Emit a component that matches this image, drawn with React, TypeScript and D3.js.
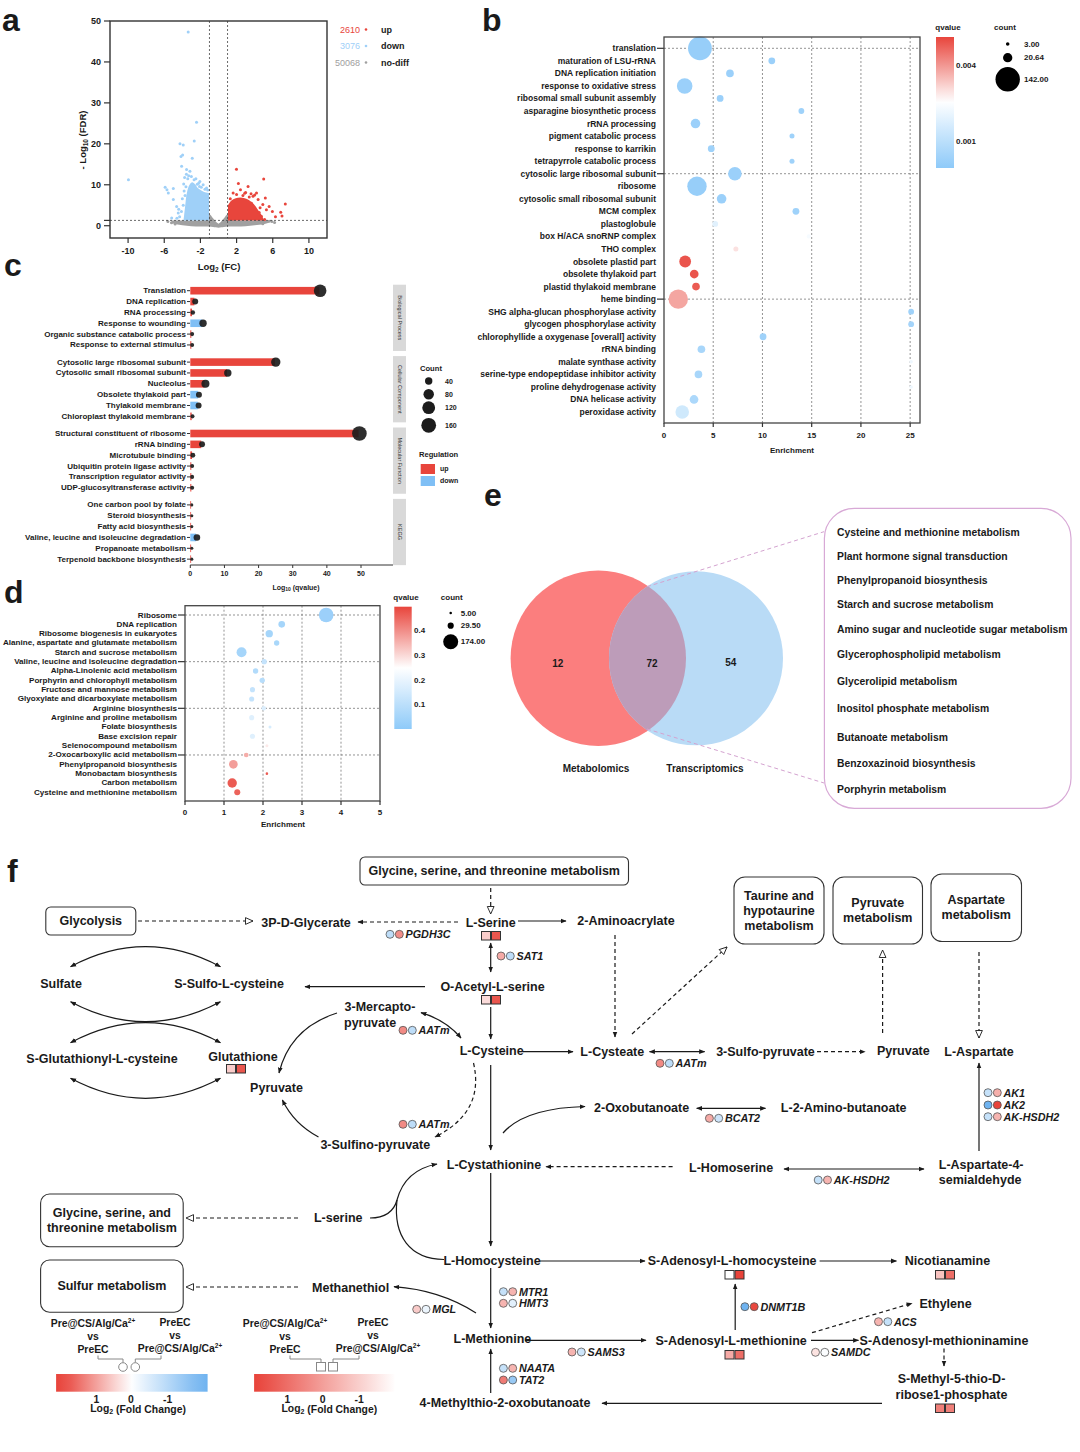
import React from 'react';
import * as d3 from 'd3';

const FONT = '"Liberation Sans", Arial, Helvetica, sans-serif';
const INK = '#1a1a1a';
const UP = '#e8453c';
const DOWN = '#8ec8f8';

// ── a: volcano ──
const VOLCANO_COUNTS = ['2610', '3076', '50068'];
const VOLCANO_CLASSES = ['up', 'down', 'no-diff'];
const VOLCANO_COLORS = ['#e8453c', '#9fd0f8', '#a0a0a0'];
const VOLCANO_X_TICKS = [-10, -6, -2, 2, 6, 10];
const VOLCANO_Y_TICKS = [0, 10, 20, 30, 40, 50];
const FC_CUT = 1;
const FDR_CUT = 1.3;
const DOWN_OUTLIERS: [number, number][] = [
  [-3.35, 47.3], [-2.43, 25.3], [-2.68, 20.7], [-4.26, 20.0], [-3.9, 19.7], [-3.97, 17.3],
  [-4.15, 16.9], [-2.9, 16.5], [-4.08, 14.5], [-9.96, 11.2], [-5.9, 9.4], [-5.0, 9.1],
  [-5.7, 8.8], [-5.55, 8.0], [-5.0, 6.4], [-4.63, 4.7], [-5.18, 1.9], [-4.45, 3.1],
  [-3.53, 13.7], [-3.16, 13.3], [-2.06, 10.8], [-1.7, 10.0], [-1.32, 9.2], [-3.9, 5.0],
  [-4.1, 3.5], [-3.8, 8.5], [-3.6, 9.5], [-3.4, 11.5], [-3.0, 12.0], [-2.7, 11.2],
  [-2.5, 11.5], [-2.2, 10.4], [-1.9, 9.4], [-3.3, 12.2], [-4.3, 2.2], [-4.6, 1.8],
  [-3.75, 11.8], [-4.0, 6.6], [-3.7, 7.4], [-2.1, 9.6], [-1.5, 8.9], [-4.4, 4.0],
  [-3.85, 10.2], [-3.55, 12.6], [-2.35, 10.1], [-1.2, 8.7],
];
const UP_OUTLIERS: [number, number][] = [
  [1.99, 13.8], [5.0, 11.4], [7.39, 5.3], [6.88, 3.3], [7.02, 2.4], [5.3, 3.9], [5.6, 4.7],
  [5.18, 6.8], [4.38, 6.4], [4.2, 8.0], [3.82, 7.2], [2.2, 10.3], [3.27, 9.6], [4.74, 2.3],
  [5.1, 1.5], [1.62, 8.0], [2.43, 8.8], [3.0, 8.1], [3.64, 5.5], [5.96, 3.5], [4.0, 7.5],
  [4.6, 4.4], [4.9, 5.2], [3.4, 7.0], [2.7, 7.4], [1.3, 6.6], [4.5, 3.2], [6.3, 2.2],
  [2.0, 7.6], [2.9, 7.9], [3.6, 7.8],
];
const NODIFF_OUTLIERS: [number, number][] = [
  [-5.6, 1.0], [-5.2, 0.7], [5.9, 1.0], [6.2, 0.8], [5.6, 1.1], [-4.8, 0.4], [4.9, 0.5],
];
// upper edge of the dense clouds: [log2FC, -log10 FDR]
const DOWN_CORE: [number, number][] = [
  [-3.85, 1.6], [-3.7, 4.5], [-3.5, 8.0], [-3.2, 10.0], [-2.9, 10.6], [-2.6, 10.1],
  [-2.3, 9.2], [-1.9, 8.6], [-1.5, 8.2], [-1.05, 8.0],
];
const UP_CORE: [number, number][] = [
  [1.05, 5.0], [1.4, 6.1], [1.9, 6.7], [2.4, 6.9], [2.9, 6.7], [3.4, 6.2],
  [3.9, 5.3], [4.3, 4.1], [4.7, 2.8], [5.0, 1.6],
];
// no-diff band: [log2FC, low, high]
const NODIFF_CORE: [number, number, number][] = [
  [-5.2, 0.6, 1.3], [-4.0, 0.1, 1.3], [-3.0, -0.1, 1.3], [-2.0, -0.2, 1.3], [-1.2, -0.2, 1.7],
  [-1.0, -0.2, 2.8], [-0.6, -0.3, 1.8], [-0.3, -0.4, 1.0], [0.0, -0.5, 0.5], [0.3, -0.4, 1.0],
  [0.6, -0.3, 1.8], [1.0, -0.2, 2.8], [1.2, -0.2, 1.7], [2.0, -0.2, 1.3], [3.0, -0.1, 1.3],
  [4.0, 0.1, 1.3], [5.0, 0.4, 1.3], [5.6, 0.8, 1.2],
];

// ── b: GO bubble ──
const GO_TERMS = [
  'translation', 'maturation of LSU-rRNA', 'DNA replication initiation', 'response to oxidative stress',
  'ribosomal small subunit assembly', 'asparagine biosynthetic process', 'rRNA processing',
  'pigment catabolic process', 'response to karrikin', 'tetrapyrrole catabolic process',
  'cytosolic large ribosomal subunit', 'ribosome', 'cytosolic small ribosomal subunit', 'MCM complex',
  'plastoglobule', 'box H/ACA snoRNP complex', 'THO complex', 'obsolete plastid part',
  'obsolete thylakoid part', 'plastid thylakoid membrane', 'heme binding',
  'SHG alpha-glucan phosphorylase activity', 'glycogen phosphorylase activity',
  'chlorophyllide a oxygenase [overall] activity', 'rRNA binding', 'malate synthase activity',
  'serine-type endopeptidase inhibitor activity', 'proline dehydrogenase activity',
  'DNA helicase activity', 'peroxidase activity',
];
const GO_ENRICH = [3.65, 10.95, 6.7, 2.1, 5.7, 13.95, 3.2, 13.0, 4.8, 13.0, 7.2, 3.35, 5.85, 13.4, 5.2,
  14.7, 7.3, 2.15, 3.07, 3.25, 1.45, 25.1, 25.1, 10.06, 3.8, 25.1, 3.5, 25.1, 3.05, 1.85];
const GO_COUNT = [135, 11, 14, 58, 11, 8, 22, 6, 11, 6, 44, 90, 22, 11, 8, 4, 6, 33, 18, 14, 90, 8, 8,
  11, 14, 3, 14, 3, 18, 44];
const GO_Q = [0.0002, 0.0003, 0.0003, 0.0003, 0.0003, 0.0004, 0.0003, 0.0004, 0.0004, 0.0004, 0.0003,
  0.0002, 0.0003, 0.0004, 0.0019, 0.0024, 0.003, 0.0049, 0.0049, 0.0048, 0.0038, 0.0004, 0.0005,
  0.0004, 0.0006, 0.0022, 0.0006, 0.0022, 0.0007, 0.0015];
const GO_X_TICKS = [0, 5, 10, 15, 20, 25];
const GO_Q_TICKS = [0.004, 0.001];
const GO_COUNT_KEYS = [3, 20.64, 142];

// ── c: lollipop ──
const C_GROUPS = ['Biological Process', 'Cellular Component', 'Molecular Function', 'KEGG'];
const C_TERMS = [
  ['Translation', 'DNA replication', 'RNA processing', 'Response to wounding', 'Organic substance catabolic process', 'Response to external stimulus'],
  ['Cytosolic large ribosomal subunit', 'Cytosolic small ribosomal subunit', 'Nucleolus', 'Obsolete thylakoid part', 'Thylakoid membrane', 'Chloroplast thylakoid membrane'],
  ['Structural constituent of ribosome', 'rRNA binding', 'Microtubule binding', 'Ubiquitin protein ligase activity', 'Transcription regulator activity', 'UDP-glucosyltransferase activity'],
  ['One carbon pool by folate', 'Steroid biosynthesis', 'Fatty acid biosynthesis', 'Valine, leucine and isoleucine degradation', 'Propanoate metabolism', 'Terpenoid backbone biosynthesis'],
];
const C_VALUES = [
  [37.8, 1.2, 0.5, 3.5, 0.3, 0.3],
  [24.8, 10.75, 4.2, 2.3, 2.2, 0.4],
  [49.3, 3.2, 0.5, 0.3, 0.3, 0.3],
  [0.2, 0.2, 0.2, 1.7, 0.2, 0.2],
];
const C_COUNTS = [
  [116, 26, 15, 40, 12, 12],
  [64, 40, 47, 26, 26, 12],
  [156, 26, 18, 12, 12, 12],
  [7, 7, 7, 32, 7, 7],
];
const C_REG = [
  ['up', 'up', 'up', 'down', 'up', 'up'],
  ['up', 'up', 'up', 'down', 'down', 'up'],
  ['up', 'up', 'up', 'up', 'up', 'up'],
  ['up', 'up', 'up', 'down', 'up', 'up'],
];
const C_X_TICKS = [0, 10, 20, 30, 40, 50];
const C_COUNT_KEYS = [40, 80, 120, 160];

// ── d: KEGG bubble ──
const KEGG_TERMS = [
  'Ribosome', 'DNA replication', 'Ribosome biogenesis in eukaryotes', 'Alanine, aspartate and glutamate metabolism',
  'Starch and sucrose metabolism', 'Valine, leucine and isoleucine degradation', 'Alpha-Linolenic acid metabolism',
  'Porphyrin and chlorophyll metabolism', 'Fructose and mannose metabolism', 'Glyoxylate and dicarboxylate metabolism',
  'Arginine biosynthesis', 'Arginine and proline metabolism', 'Folate biosynthesis', 'Base excision repair',
  'Selenocompound metabolism', '2-Oxocarboxylic acid metabolism', 'Phenylpropanoid biosynthesis',
  'Monobactam biosynthesis', 'Carbon metabolism', 'Cysteine and methionine metabolism',
];
const KEGG_ENRICH = [3.62, 2.48, 2.16, 2.35, 1.45, 2.03, 1.81, 1.98, 1.73, 1.71, 2.02, 1.71, 2.18, 1.73,
  2.1, 1.57, 1.24, 2.1, 1.21, 1.34];
const KEGG_COUNT = [165, 34, 42, 22, 77, 22, 22, 22, 20, 20, 15, 20, 7, 20, 7, 17, 58, 5, 68, 28];
const KEGG_Q = [0.03, 0.05, 0.05, 0.06, 0.05, 0.12, 0.08, 0.09, 0.12, 0.12, 0.17, 0.18, 0.16, 0.18,
  0.28, 0.36, 0.38, 0.47, 0.47, 0.46];
const KEGG_X_TICKS = [0, 1, 2, 3, 4, 5];
const KEGG_Q_TICKS = [0.4, 0.3, 0.2, 0.1];
const KEGG_COUNT_KEYS = [5, 29.5, 174];

// ── e: Venn ──
const VENN_SETS = ['Metabolomics', 'Transcriptomics'];
const VENN_COUNTS = [12, 72, 54];
const VENN_SHARED = [
  'Cysteine and methionine metabolism', 'Plant hormone signal transduction', 'Phenylpropanoid biosynthesis',
  'Starch and sucrose metabolism', 'Amino sugar and nucleotide sugar metabolism', 'Glycerophospholipid metabolism',
  'Glycerolipid metabolism', 'Inositol phosphate metabolism', 'Butanoate metabolism',
  'Benzoxazinoid biosynthesis', 'Porphyrin metabolism',
];

// ── f: pathway, log2 fold changes ──
const GENE_NAMES = ['PGDH3C', 'SAT1', 'AATm', 'BCAT2', 'AK1', 'AK2', 'AK-HSDH2', 'MTR1', 'HMT3', 'NAATA',
  'TAT2', 'MGL', 'DNMT1B', 'SAMS3', 'ACS', 'SAMDC'];
const GENE_FC_A = [-0.9, 0.9, 1.25, 0.9, -0.8, -2.2, -0.8, -0.8, 0.8, -0.8, 1.4, 0.55, -2.0, 0.8, 0.8, 0.3];
const GENE_FC_B = [1.2, -0.9, -0.9, -0.7, 0.85, 2.0, 0.8, 0.8, -0.4, 0.8, -1.43, -0.26, 1.95, -0.66, -0.8, -0.05];
const METAB_NAMES = ['L-Serine', 'O-Acetyl-L-serine', 'Glutathione', 'S-Adenosyl-L-homocysteine',
  'Nicotianamine', 'S-Adenosyl-L-methionine', 'S-Methyl-5-thio-D-ribose1-phosphate'];
const METAB_FC_A = [-0.95, -1.26, -0.95, -2.0, -0.75, -0.24, 0.65];
const METAB_FC_B = [1.5, 1.5, 1.5, 1.9, 1.0, 1.0, 0.65];
const FC_TICKS = [1, 0, -1];

const geneColor = d3.scaleLinear<string>().domain([2, 0, -2]).range(['#e8433a', '#ffffff', '#6fb3f0']).clamp(true);
const metabColor = d3.scaleLinear<string>().domain([-2, 1.9]).range(['#ffffff', '#e8433a']).clamp(true);

const FS = 12.5; // pathway label size

function Txt({ x, y, children, size = FS, anchor = 'middle', italic = false, weight = 'bold', fill = INK, transform }: any) {
  return (
    <text x={x} y={y} fontSize={size} textAnchor={anchor} dominantBaseline="central" fontWeight={weight}
      fontStyle={italic ? 'italic' : 'normal'} fill={fill} transform={transform}>
      {children}
    </text>
  );
}

function Defs() {
  return (
    <defs>
      <marker id="af" viewBox="0 0 10 10" refX="9" refY="5" markerWidth="6" markerHeight="6"
        orient="auto-start-reverse" markerUnits="userSpaceOnUse">
        <path d="M0,1 L10,5 L0,9 z" fill={INK} />
      </marker>
      <marker id="ao" viewBox="0 0 12 12" refX="11" refY="6" markerWidth="9" markerHeight="9"
        orient="auto-start-reverse" markerUnits="userSpaceOnUse">
        <path d="M1,1.5 L11,6 L1,10.5 z" fill="#fff" stroke={INK} strokeWidth="1.2" />
      </marker>
    </defs>
  );
}

// ── Panel a ──
function PanelA() {
  const x = d3.scaleLinear().domain([-12, 12]).range([110, 327]);
  const y = d3.scaleLinear().domain([-3, 50]).range([238, 21]);
  const core = d3.area<[number, number]>().x((d) => x(d[0])).y0(y(FDR_CUT)).y1((d) => y(d[1])).curve(d3.curveCatmullRom);
  const band = d3.area<[number, number, number]>().x((d) => x(d[0])).y0((d) => y(d[1])).y1((d) => y(d[2])).curve(d3.curveCatmullRom);
  return (
    <g>
      <Txt x={2} y={20} size={32} anchor="start">a</Txt>
      <path d={band(NODIFF_CORE) || ''} fill={VOLCANO_COLORS[2]} />
      {NODIFF_OUTLIERS.map((d, i) => <circle key={'n' + i} cx={x(d[0])} cy={y(d[1])} r={1.5} fill={VOLCANO_COLORS[2]} />)}
      <path d={core(DOWN_CORE) || ''} fill={VOLCANO_COLORS[1]} />
      <path d={core(UP_CORE) || ''} fill={VOLCANO_COLORS[0]} />
      {DOWN_OUTLIERS.map((d, i) => <circle key={'d' + i} cx={x(d[0])} cy={y(d[1])} r={1.5} fill={VOLCANO_COLORS[1]} />)}
      {UP_OUTLIERS.map((d, i) => <circle key={'u' + i} cx={x(d[0])} cy={y(d[1])} r={1.5} fill={VOLCANO_COLORS[0]} />)}
      {[-FC_CUT, FC_CUT].map((v) => (
        <line key={v} x1={x(v)} x2={x(v)} y1={21} y2={238} stroke="#444" strokeWidth={0.8} strokeDasharray="2 2" />
      ))}
      <line x1={110} x2={327} y1={y(FDR_CUT)} y2={y(FDR_CUT)} stroke="#444" strokeWidth={0.8} strokeDasharray="2 2" />
      <rect x={110} y={21} width={217} height={217} fill="none" stroke="#333" strokeWidth={1.4} />
      {VOLCANO_Y_TICKS.map((t) => (
        <g key={t}>
          <line x1={104} x2={110} y1={y(t)} y2={y(t)} stroke="#333" strokeWidth={1.2} />
          <Txt x={101} y={y(t)} size={9} anchor="end">{t}</Txt>
        </g>
      ))}
      <line x1={104} x2={110} y1={y(FDR_CUT)} y2={y(FDR_CUT)} stroke="#333" strokeWidth={1.2} />
      {VOLCANO_X_TICKS.map((t) => (
        <g key={t}>
          <line x1={x(t)} x2={x(t)} y1={238} y2={243} stroke="#333" strokeWidth={1.2} />
          <Txt x={x(t)} y={251} size={9}>{t}</Txt>
        </g>
      ))}
      <text x={219} y={266} fontSize={9.5} fontWeight="bold" textAnchor="middle" dominantBaseline="central" fill={INK}>
        Log<tspan fontSize={6.5} dy={2.5}>2</tspan><tspan dy={-2.5}> (FC)</tspan>
      </text>
      <text transform="translate(82,140) rotate(-90)" fontSize={9.5} fontWeight="bold" textAnchor="middle" dominantBaseline="central" fill={INK}>
        - Log<tspan fontSize={6.5} dy={2.5}>10</tspan><tspan dy={-2.5}> (FDR)</tspan>
      </text>
      {VOLCANO_COUNTS.map((n, i) => (
        <g key={n}>
          <Txt x={360} y={29.5 + i * 16.5} size={9} anchor="end" fill={VOLCANO_COLORS[i]} weight="normal">{n}</Txt>
          <circle cx={366} cy={29.5 + i * 16.5} r={1.3} fill={VOLCANO_COLORS[i]} />
          <Txt x={381} y={29.5 + i * 16.5} size={9} anchor="start">{VOLCANO_CLASSES[i]}</Txt>
        </g>
      ))}
    </g>
  );
}

// ── Panel b ──
function PanelB() {
  const x = d3.scaleLinear().domain([0, 26]).range([664, 920]);
  const y = d3.scaleLinear().domain([0, 29]).range([48.3, 412]);
  const r = d3.scaleSqrt().domain([0, 142]).range([0, 12.2]);
  const qc = d3.scaleLinear<string>().domain([0, 0.0026, 0.0051]).range(['#8ecaf9', '#ffffff', '#e8453c']);
  const qy = d3.scaleLinear().domain([0.004, 0.001]).range([65, 141.7]);
  const stops = d3.range(0, 1.0001, 0.1);
  return (
    <g>
      <Txt x={482} y={20} size={32} anchor="start">b</Txt>
      <defs>
        <linearGradient id="gq" x1="0" y1="0" x2="0" y2="1">
          {stops.map((s) => <stop key={s} offset={s} stopColor={qc(0.0051 - s * 0.0051)} />)}
        </linearGradient>
      </defs>
      {GO_X_TICKS.slice(1).map((t) => (
        <line key={t} x1={x(t)} x2={x(t)} y1={37} y2={423} stroke="#666" strokeWidth={0.7} strokeDasharray="2 2" />
      ))}
      {[0, 10, 20].map((i) => (
        <g key={i}>
          <line x1={664} x2={920} y1={y(i)} y2={y(i)} stroke="#666" strokeWidth={0.7} strokeDasharray="2 2" />
          <line x1={657} x2={664} y1={y(i)} y2={y(i)} stroke="#333" strokeWidth={1.2} />
        </g>
      ))}
      {GO_TERMS.map((t, i) => (
        <g key={t}>
          <Txt x={656} y={y(i)} size={8.5} anchor="end">{t}</Txt>
          <circle cx={x(GO_ENRICH[i])} cy={y(i)} r={r(GO_COUNT[i])} fill={qc(GO_Q[i])} />
        </g>
      ))}
      <rect x={664} y={37} width={256} height={386} fill="none" stroke="#444" strokeWidth={1.3} />
      {GO_X_TICKS.map((t) => (
        <g key={t}>
          <line x1={x(t)} x2={x(t)} y1={423} y2={427} stroke="#333" strokeWidth={1.2} />
          <Txt x={x(t)} y={435.5} size={8}>{t}</Txt>
        </g>
      ))}
      <Txt x={792} y={450} size={8}>Enrichment</Txt>
      <Txt x={948} y={27.5} size={8}>qvalue</Txt>
      <rect x={936} y={37} width={18} height={131} fill="url(#gq)" />
      {GO_Q_TICKS.map((t) => <Txt key={t} x={956} y={qy(t)} size={8} anchor="start">{t.toFixed(3)}</Txt>)}
      <Txt x={1005} y={27.5} size={8}>count</Txt>
      {GO_COUNT_KEYS.map((c, i) => {
        const cy = [44, 57.7, 79.3][i];
        return (
          <g key={c}>
            <circle cx={1007.7} cy={cy} r={r(c)} fill="#000" />
            <Txt x={1024} y={cy} size={8} anchor="start">{c.toFixed(2)}</Txt>
          </g>
        );
      })}
    </g>
  );
}

// ── Panel c ──
function PanelC() {
  const x = d3.scaleLinear().domain([0, 50]).range([190.3, 361]);
  const r = d3.scaleSqrt().domain([0, 160]).range([0, 7.4]);
  const rowY = (g: number, j: number) => 290.7 + (g * 6 + j) * 10.85 + g * 6.3;
  const col = (reg: string) => (reg === 'up' ? UP : '#7fbff5');
  return (
    <g>
      <Txt x={4} y={265} size={32} anchor="start">c</Txt>
      {C_GROUPS.map((gName, g) => (
        <g key={gName}>
          <rect x={393} y={rowY(g, 0) - 6} width={13} height={rowY(g, 5) - rowY(g, 0) + 12} fill="#d9d9d9" />
          <Txt x={399.5} y={(rowY(g, 0) + rowY(g, 5)) / 2} size={5.5} weight="normal" fill="#333"
            transform={`rotate(90 399.5 ${(rowY(g, 0) + rowY(g, 5)) / 2})`}>{gName}</Txt>
          {C_TERMS[g].map((t, j) => {
            const cy = rowY(g, j);
            return (
              <g key={t}>
                <Txt x={186} y={cy} size={8} anchor="end">{t}</Txt>
                <line x1={187} x2={190} y1={cy} y2={cy} stroke="#333" strokeWidth={1} />
                <rect x={x(0)} y={cy - 3.8} width={Math.max(0.8, x(C_VALUES[g][j]) - x(0))} height={7.6} fill={col(C_REG[g][j])} />
                <circle cx={x(C_VALUES[g][j]) + 0.8} cy={cy} r={r(C_COUNTS[g][j])} fill="#1c1c1c" opacity={0.92} />
              </g>
            );
          })}
        </g>
      ))}
      <line x1={190.3} x2={393} y1={565} y2={565} stroke="#333" strokeWidth={1} />
      {C_X_TICKS.map((t) => (
        <g key={t}>
          <line x1={x(t)} x2={x(t)} y1={565} y2={568} stroke="#333" strokeWidth={1} />
          <Txt x={x(t)} y={573} size={7}>{t}</Txt>
        </g>
      ))}
      <text x={296} y={587} fontSize={7} fontWeight="bold" textAnchor="middle" dominantBaseline="central" fill={INK}>
        Log<tspan fontSize={5} dy={2}>10</tspan><tspan dy={-2}> (qvalue)</tspan>
      </text>
      <Txt x={420} y={368} size={7.6} anchor="start">Count</Txt>
      {C_COUNT_KEYS.map((c, i) => {
        const cy = [381, 394.3, 407.7, 425.3][i];
        return (
          <g key={c}>
            <circle cx={428.7} cy={cy} r={r(c)} fill="#1c1c1c" />
            <Txt x={445} y={cy} size={7} anchor="start">{c}</Txt>
          </g>
        );
      })}
      <Txt x={419} y={454} size={7.6} anchor="start">Regulation</Txt>
      <rect x={420.7} y={464} width={14.3} height={10} fill={UP} />
      <Txt x={440} y={468.5} size={7} anchor="start">up</Txt>
      <rect x={420.7} y={476} width={14.3} height={10} fill="#7fbff5" />
      <Txt x={440} y={480.5} size={7} anchor="start">down</Txt>
    </g>
  );
}

// ── Panel d ──
function PanelD() {
  const x = d3.scaleLinear().domain([0, 5]).range([185, 380]);
  const y = d3.scaleLinear().domain([0, 19]).range([615, 792.3]);
  const r = d3.scaleSqrt().domain([0, 174]).range([0, 7.5]);
  const qc = d3.scaleLinear<string>().domain([0, 0.25, 0.5]).range(['#8ecaf9', '#ffffff', '#e8453c']);
  const qy = d3.scaleLinear().domain([0.4, 0.1]).range([630.7, 704.7]);
  const stops = d3.range(0, 1.0001, 0.1);
  return (
    <g>
      <Txt x={4} y={592} size={32} anchor="start">d</Txt>
      <defs>
        <linearGradient id="gq2" x1="0" y1="0" x2="0" y2="1">
          {stops.map((s) => <stop key={s} offset={s} stopColor={qc(0.5 - s * 0.5)} />)}
        </linearGradient>
      </defs>
      {KEGG_X_TICKS.slice(1, 5).map((t) => (
        <line key={t} x1={x(t)} x2={x(t)} y1={605.7} y2={801} stroke="#666" strokeWidth={0.7} strokeDasharray="2 2" />
      ))}
      {[0, 5, 10, 15].map((i) => (
        <g key={i}>
          <line x1={185} x2={380} y1={y(i)} y2={y(i)} stroke="#666" strokeWidth={0.7} strokeDasharray="2 2" />
          <line x1={178} x2={185} y1={y(i)} y2={y(i)} stroke="#333" strokeWidth={1.2} />
        </g>
      ))}
      {KEGG_TERMS.map((t, i) => (
        <g key={t}>
          <Txt x={177} y={y(i)} size={8.1} anchor="end">{t}</Txt>
          <circle cx={x(KEGG_ENRICH[i])} cy={y(i)} r={r(KEGG_COUNT[i])} fill={qc(KEGG_Q[i])} />
        </g>
      ))}
      <rect x={185} y={605.7} width={195} height={195.3} fill="none" stroke="#444" strokeWidth={1.3} />
      {KEGG_X_TICKS.map((t) => (
        <g key={t}>
          <line x1={x(t)} x2={x(t)} y1={801} y2={805} stroke="#333" strokeWidth={1.2} />
          <Txt x={x(t)} y={812} size={8}>{t}</Txt>
        </g>
      ))}
      <Txt x={283} y={824.5} size={8}>Enrichment</Txt>
      <Txt x={406} y={597.7} size={8}>qvalue</Txt>
      <rect x={394.3} y={606.7} width={17.4} height={122.3} fill="url(#gq2)" />
      {KEGG_Q_TICKS.map((t) => <Txt key={t} x={414} y={qy(t)} size={8} anchor="start">{t.toFixed(1)}</Txt>)}
      <Txt x={451.7} y={597.7} size={8}>count</Txt>
      {KEGG_COUNT_KEYS.map((c, i) => {
        const cy = [613, 625.7, 641.7][i];
        return (
          <g key={c}>
            <circle cx={450.7} cy={cy} r={r(c)} fill="#000" />
            <Txt x={460.7} y={cy} size={8} anchor="start">{c.toFixed(2)}</Txt>
          </g>
        );
      })}
    </g>
  );
}

// ── Panel e ──
function PanelE() {
  const cx = [598.3, 696];
  const cy = 658.3;
  const rad = 87.7;
  const listYs = [532.7, 556.7, 580.7, 604.7, 629.3, 654, 681, 708.3, 737.3, 763.3, 789.3];
  return (
    <g>
      <Txt x={484} y={495} size={32} anchor="start">e</Txt>
      <defs>
        <clipPath id="venn-red"><circle cx={cx[0]} cy={cy} r={rad} /></clipPath>
      </defs>
      <circle cx={cx[0]} cy={cy} r={rad} fill="#fb7e7e" />
      <circle cx={cx[1]} cy={cy} r={rad - 0.7} fill="#b9dbf6" />
      <circle cx={cx[1]} cy={cy} r={rad - 0.7} fill="#bd9cb9" clipPath="url(#venn-red)" />
      <Txt x={557.7} y={663} size={10}>{VENN_COUNTS[0]}</Txt>
      <Txt x={652} y={663} size={10}>{VENN_COUNTS[1]}</Txt>
      <Txt x={730.7} y={662} size={10}>{VENN_COUNTS[2]}</Txt>
      <Txt x={596} y={768} size={10}>{VENN_SETS[0]}</Txt>
      <Txt x={705} y={768} size={10}>{VENN_SETS[1]}</Txt>
      <line x1={647} y1={586.7} x2={824} y2={531.7} stroke="#d4a3d0" strokeWidth={1} strokeDasharray="4 3" />
      <line x1={647} y1={729} x2={824} y2={783} stroke="#d4a3d0" strokeWidth={1} strokeDasharray="4 3" />
      <rect x={824.4} y={508.3} width={246.6} height={300} rx={30} fill="#fff" stroke="#d8a9d6" strokeWidth={1.2} />
      {VENN_SHARED.map((p, i) => (
        <Txt key={p} x={837} y={listYs[i]} size={10.35} anchor="start">{p}</Txt>
      ))}
    </g>
  );
}

// ── Panel f ──
function Ln({ x1, y1, x2, y2, dashed = false, head = 'af', both = false }: any) {
  return (
    <line x1={x1} y1={y1} x2={x2} y2={y2} stroke={INK} strokeWidth={1.2}
      strokeDasharray={dashed ? '4 3' : undefined}
      markerEnd={head ? `url(#${head})` : undefined} markerStart={both ? `url(#${head})` : undefined} />
  );
}
function Crv({ d, dashed = false, head = 'af', both = false }: any) {
  return (
    <path d={d} fill="none" stroke={INK} strokeWidth={1.2} strokeDasharray={dashed ? '4 3' : undefined}
      markerEnd={head ? `url(#${head})` : undefined} markerStart={both ? `url(#${head})` : undefined} />
  );
}
function Genes({ name, x, y }: { name: string; x: number; y: number }) {
  const i = GENE_NAMES.indexOf(name);
  return (
    <g>
      <circle cx={x} cy={y} r={4} fill={geneColor(GENE_FC_A[i])} stroke="#555" strokeWidth={0.8} />
      <circle cx={x + 9.3} cy={y} r={4} fill={geneColor(GENE_FC_B[i])} stroke="#555" strokeWidth={0.8} />
      <Txt x={x + 15.5} y={y} size={10.8} anchor="start" italic>{name}</Txt>
    </g>
  );
}
function Metab({ name, x, y }: { name: string; x: number; y: number }) {
  const i = METAB_NAMES.indexOf(name);
  return (
    <g>
      <rect x={x} y={y} width={9} height={8.5} fill={metabColor(METAB_FC_A[i])} stroke="#333" strokeWidth={1} />
      <rect x={x + 10} y={y} width={9} height={8.5} fill={metabColor(METAB_FC_B[i])} stroke="#333" strokeWidth={1} />
    </g>
  );
}
function Box({ x, y, w, h, lines, rx = 7 }: any) {
  const n = lines.length;
  return (
    <g>
      <rect x={x} y={y} width={w} height={h} rx={rx} fill="#fff" stroke="#333" strokeWidth={1.1} />
      {lines.map((l: string, i: number) => (
        <Txt key={l} x={x + w / 2} y={y + h / 2 + (i - (n - 1) / 2) * 15} size={12.5}>{l}</Txt>
      ))}
    </g>
  );
}

function Legend({ kind, x0 }: { kind: 'circle' | 'square'; x0: number }) {
  // x0 = left edge of the gradient bar
  const w = kind === 'circle' ? 151.5 : 140.2;
  const pos = d3.scaleLinear().domain([1, 0, -1]).range(kind === 'circle' ? [96.4, 130.9, 167.7] : [287.5, 322.7, 359.2]);
  const gid = kind === 'circle' ? 'fcg1' : 'fcg2';
  const stops = d3.range(0, 1.0001, 0.1);
  const vAt = (s: number) => pos.invert(x0 + s * w);
  const colAt = (s: number) => (kind === 'circle' ? geneColor(vAt(s)) : metabColor(vAt(s)));
  const m1 = kind === 'circle' ? [123, 135.3] : [321, 333];
  const lA = kind === 'circle' ? 93 : 285;
  const lB = kind === 'circle' ? 175 : 373;
  const ls = 10.4;
  return (
    <g>
      <defs>
        <linearGradient id={gid} x1="0" y1="0" x2="1" y2="0">
          {stops.map((s) => <stop key={s} offset={s} stopColor={colAt(s)} />)}
        </linearGradient>
      </defs>
      <text x={lA} y={1323} fontSize={ls} fontWeight="bold" textAnchor="middle" dominantBaseline="central" fill={INK}>
        Pre@CS/Alg/Ca<tspan fontSize={6.5} dy={-3}>2+</tspan>
      </text>
      <Txt x={lA} y={1336} size={ls}>vs</Txt>
      <Txt x={lA} y={1349} size={ls}>PreEC</Txt>
      <Txt x={lB} y={1322} size={ls}>PreEC</Txt>
      <Txt x={lB} y={1335} size={ls}>vs</Txt>
      <text x={lB + 5} y={1348} fontSize={ls} fontWeight="bold" textAnchor="middle" dominantBaseline="central" fill={INK}>
        Pre@CS/Alg/Ca<tspan fontSize={6.5} dy={-3}>2+</tspan>
      </text>
      <polyline points={`${lA + 5},1355.5 ${lA + 5},1359 ${m1[0]},1359 ${m1[0]},1362.5`} fill="none" stroke="#888" strokeWidth={1} />
      <polyline points={`${lB - 14},1355.5 ${lB - 14},1359 ${m1[1]},1359 ${m1[1]},1362.5`} fill="none" stroke="#888" strokeWidth={1} />
      {m1.map((mx) => kind === 'circle'
        ? <circle key={mx} cx={mx} cy={1367} r={4.3} fill="#fff" stroke="#888" strokeWidth={1} />
        : <rect key={mx} x={mx - 4.5} y={1362.5} width={9} height={8.5} fill="#fff" stroke="#888" strokeWidth={1} />)}
      <rect x={x0} y={1374} width={w} height={17.7} fill={`url(#${gid})`} />
      {FC_TICKS.map((t) => <Txt key={t} x={pos(t)} y={1399} size={ls}>{t}</Txt>)}
      <text x={(pos(1) + pos(-1)) / 2 + 6} y={1408.5} fontSize={ls} fontWeight="bold" textAnchor="middle" dominantBaseline="central" fill={INK}>
        Log<tspan fontSize={7} dy={2.5}>2</tspan><tspan dy={-2.5}> (Fold Change)</tspan>
      </text>
    </g>
  );
}

function PanelF() {
  return (
    <g>
      <Txt x={7} y={871} size={32} anchor="start">f</Txt>
      <Box x={360} y={857} w={268.5} h={28} lines={['Glycine, serine, and threonine metabolism']} rx={5} />
      <Box x={45.8} y={907} w={90} h={28} lines={['Glycolysis']} rx={5} />
      <Box x={734} y={877} w={90} h={67} lines={['Taurine and', 'hypotaurine', 'metabolism']} rx={11} />
      <Box x={833} y={877} w={89.5} h={67} lines={['Pyruvate', 'metabolism']} rx={11} />
      <Box x={931} y={874} w={90.5} h={67.5} lines={['Aspartate', 'metabolism']} rx={11} />
      <Box x={40.6} y={1194} w={142.6} h={52.7} lines={['Glycine, serine, and', 'threonine metabolism']} rx={9} />
      <Box x={40.6} y={1260} w={142.6} h={52.3} lines={['Sulfur metabolism']} rx={9} />

      {/* links */}
      <Ln x1={138} y1={921} x2={253} y2={921} dashed head="ao" />
      <Ln x1={458} y1={922} x2={358} y2={922} dashed />
      <Ln x1={490.7} y1={888} x2={490.7} y2={914} dashed head="ao" />
      <Ln x1={518} y1={921} x2={566} y2={921} />
      <Ln x1={490.7} y1={943} x2={490.7} y2={972} both />
      <Ln x1={425} y1={986.7} x2={305} y2={986.7} />
      <Ln x1={490.7} y1={1007} x2={490.7} y2={1039} />
      <Ln x1={615} y1={935} x2={615} y2={1037} dashed />
      <Ln x1={523} y1={1051.7} x2={573} y2={1051.7} />
      <Ln x1={632} y1={1034} x2={727} y2={947} dashed head="ao" />
      <Ln x1={649.5} y1={1051.7} x2={704.6} y2={1051.7} both />
      <Ln x1={817} y1={1051.7} x2={865} y2={1051.7} dashed />
      <Ln x1={882.6} y1={1033} x2={882.6} y2={950} dashed head="ao" />
      <Ln x1={979} y1={952} x2={979} y2={1038} dashed head="ao" />
      <Ln x1={979} y1={1151} x2={979} y2={1063} />
      <Ln x1={696.7} y1={1108.3} x2={765.5} y2={1108.3} both />
      <Crv d="M503,1133 Q525,1108 585,1106.5" />
      <Ln x1={490.7} y1={1065} x2={490.7} y2={1150} />
      <Crv d="M337,1013 Q290,1028 279,1073" />
      <Crv d="M421,1012.7 Q446,1020 461,1038" both />
      <Crv d="M473.5,1063 Q485,1112 435,1137" dashed />
      <Crv d="M318.5,1137 Q294,1124 282.4,1100" />
      <Crv d="M70.6,966.7 Q145.5,926.7 220.4,966.7" both />
      <Crv d="M70.6,1001.7 Q145.5,1041.7 220.4,1001.7" both />
      <Crv d="M70.6,1042.7 Q145.5,1002.7 220.4,1042.7" both />
      <Crv d="M70.6,1078.3 Q145.5,1118.3 220.4,1078.3" both />
      <Crv d="M370,1218 Q392,1218 397,1200 Q405,1170 437,1164" />
      <Crv d="M397,1200 C393,1236 410,1259 444,1259.5" head={null} />
      <Ln x1={490.7} y1={1173} x2={490.7} y2={1246} />
      <Ln x1={490.7} y1={1268} x2={490.7} y2={1328} />
      <Ln x1={490.7} y1={1393} x2={490.7} y2={1349} />
      <Crv d="M476,1313 Q440,1290 394,1286.7" />
      <Ln x1={298} y1={1218} x2={186} y2={1218} dashed head="ao" />
      <Ln x1={298} y1={1287} x2={186} y2={1287} dashed head="ao" />
      <Ln x1={672.6} y1={1166.7} x2={546} y2={1166.7} dashed />
      <Ln x1={784} y1={1169} x2={924} y2={1169} both />
      <Ln x1={540} y1={1261} x2={645} y2={1261} />
      <Ln x1={819.6} y1={1261} x2={896.4} y2={1261} />
      <Ln x1={735.2} y1={1330} x2={735.2} y2={1284} />
      <Ln x1={525} y1={1340.3} x2={646} y2={1340.3} />
      <Ln x1={811} y1={1340.3} x2={858.5} y2={1340.3} />
      <Ln x1={812} y1={1332.7} x2={912} y2={1303.3} dashed />
      <Ln x1={944} y1={1348.5} x2={944} y2={1366} dashed />
      <Ln x1={882} y1={1403.3} x2={602} y2={1403.3} />

      {/* metabolites */}
      <Txt x={306} y={922.5}>3P-D-Glycerate</Txt>
      <Txt x={490.7} y={922.5}>L-Serine</Txt>
      <Txt x={626} y={921}>2-Aminoacrylate</Txt>
      <Txt x={61} y={984}>Sulfate</Txt>
      <Txt x={229} y={984}>S-Sulfo-L-cysteine</Txt>
      <Txt x={492.5} y={986.7}>O-Acetyl-L-serine</Txt>
      <Txt x={380} y={1006.7}>3-Mercapto-</Txt>
      <Txt x={344} y={1022.7} anchor="start">pyruvate</Txt>
      <Txt x={102} y={1058.7}>S-Glutathionyl-L-cysteine</Txt>
      <Txt x={243} y={1056.7}>Glutathione</Txt>
      <Txt x={276.5} y={1087.7}>Pyruvate</Txt>
      <Txt x={491.7} y={1051}>L-Cysteine</Txt>
      <Txt x={612.3} y={1051.7}>L-Cysteate</Txt>
      <Txt x={765.5} y={1051.7}>3-Sulfo-pyruvate</Txt>
      <Txt x={903.3} y={1051}>Pyruvate</Txt>
      <Txt x={979} y={1052}>L-Aspartate</Txt>
      <Txt x={641.6} y={1108.3}>2-Oxobutanoate</Txt>
      <Txt x={843.7} y={1108}>L-2-Amino-butanoate</Txt>
      <Txt x={375.3} y={1145}>3-Sulfino-pyruvate</Txt>
      <Txt x={494} y={1165}>L-Cystathionine</Txt>
      <Txt x={731.1} y={1168.3}>L-Homoserine</Txt>
      <Txt x={938.8} y={1165} anchor="start">L-Aspartate-4-</Txt>
      <Txt x={938.8} y={1180} anchor="start">semialdehyde</Txt>
      <Txt x={338.2} y={1218.3}>L-serine</Txt>
      <Txt x={492} y={1260.7}>L-Homocysteine</Txt>
      <Txt x={732.1} y={1260.7}>S-Adenosyl-L-homocysteine</Txt>
      <Txt x={947.4} y={1260.7}>Nicotianamine</Txt>
      <Txt x={350.6} y={1287.7}>Methanethiol</Txt>
      <Txt x={945.6} y={1304}>Ethylene</Txt>
      <Txt x={492.4} y={1339.3}>L-Methionine</Txt>
      <Txt x={731.1} y={1341}>S-Adenosyl-L-methionine</Txt>
      <Txt x={944} y={1341}>S-Adenosyl-methioninamine</Txt>
      <Txt x={951.5} y={1379.3}>S-Methyl-5-thio-D-</Txt>
      <Txt x={951.5} y={1395}>ribose1-phosphate</Txt>
      <Txt x={505} y={1403.3}>4-Methylthio-2-oxobutanoate</Txt>

      <Metab name="L-Serine" x={481.5} y={931.5} />
      <Metab name="O-Acetyl-L-serine" x={481.5} y={995.5} />
      <Metab name="Glutathione" x={226.5} y={1064.5} />
      <Metab name="S-Adenosyl-L-homocysteine" x={725} y={1270.5} />
      <Metab name="Nicotianamine" x={935.5} y={1270.5} />
      <Metab name="S-Adenosyl-L-methionine" x={725} y={1350.5} />
      <Metab name="S-Methyl-5-thio-D-ribose1-phosphate" x={935.5} y={1404} />

      {/* genes */}
      <Genes name="PGDH3C" x={390} y={934.3} />
      <Genes name="SAT1" x={501} y={956} />
      <Genes name="AATm" x={403} y={1030.3} />
      <Genes name="AATm" x={403} y={1124.3} />
      <Genes name="AATm" x={660} y={1063.3} />
      <Genes name="BCAT2" x={709.4} y={1118.3} />
      <Genes name="AK1" x={988} y={1092.7} />
      <Genes name="AK2" x={988} y={1105} />
      <Genes name="AK-HSDH2" x={988} y={1116.7} />
      <Genes name="AK-HSDH2" x={818.2} y={1180} />
      <Genes name="MTR1" x={503.4} y={1291.7} />
      <Genes name="HMT3" x={503.4} y={1303.3} />
      <Genes name="NAATA" x={503.4} y={1368.3} />
      <Genes name="TAT2" x={503.4} y={1380} />
      <Genes name="MGL" x={416.7} y={1309.3} />
      <Genes name="DNMT1B" x={744.9} y={1306.7} />
      <Genes name="SAMS3" x={572} y={1352} />
      <Genes name="ACS" x={878.5} y={1321.7} />
      <Genes name="SAMDC" x={815.5} y={1352.3} />

      <Legend kind="circle" x0={56.1} />
      <Legend kind="square" x0={254.1} />
    </g>
  );
}

export default function App() {
  return (
    <div style={{ position: 'absolute', left: 0, top: 0, width: 1080, height: 1452, background: '#fff' }}>
      <svg width={1080} height={1452} style={{ display: 'block', fontFamily: FONT }}>
        <Defs />
        <PanelA />
        <PanelB />
        <PanelC />
        <PanelD />
        <PanelE />
        <PanelF />
      </svg>
    </div>
  );
}
